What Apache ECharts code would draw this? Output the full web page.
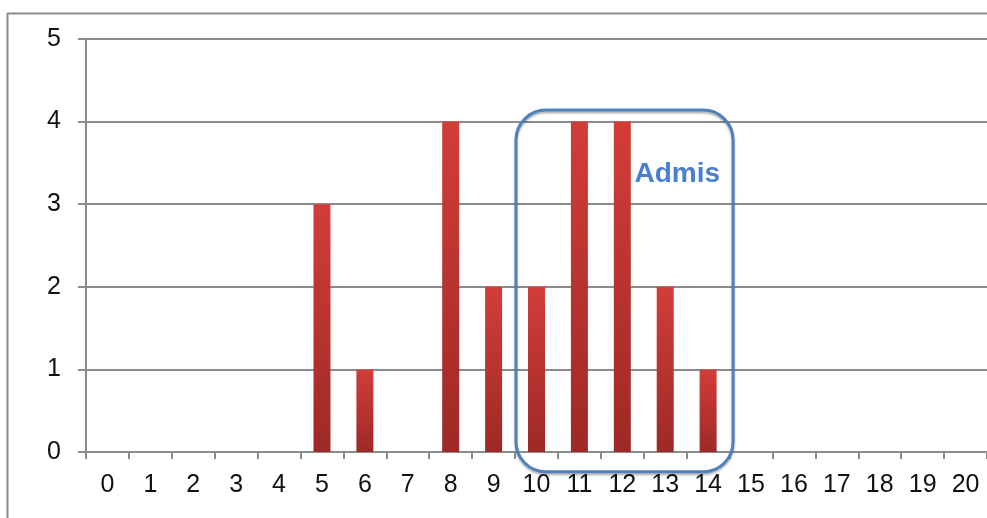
<!DOCTYPE html>
<html>
<head>
<meta charset="utf-8">
<style>
  html, body { margin: 0; padding: 0; background: #fff; }
  #chart { width: 987px; height: 518px; }
</style>
<script src="https://cdn.jsdelivr.net/npm/echarts@6/dist/echarts.min.js"></script>
</head>
<body>
<div id="chart"></div>
<script>
// Score distribution: number of students per score (0–20)
const scores = ['0','1','2','3','4','5','6','7','8','9','10','11','12','13','14','15','16','17','18','19','20'];
const counts = [0, 0, 0, 0, 0, 3, 1, 0, 4, 2, 2, 4, 4, 2, 1, 0, 0, 0, 0, 0, 0];
const valueTicks = [0, 1, 2, 3, 4, 5];
// Range of scores grouped as "Admis"
const admisFrom = 10;
const admisTo = 14;
const admisLabel = 'Admis';

const chart = echarts.init(document.getElementById('chart'));
const axisGray = '#8c8c8c';

const option = {
  animation: false,
  grid: { left: 86, right: -2, top: 39, bottom: 66, containLabel: false },
  xAxis: {
    type: 'category',
    data: scores,
    boundaryGap: true,
    axisLine: { lineStyle: { color: axisGray, width: 2 } },
    axisTick: { show: true, length: 7, alignWithLabel: false, lineStyle: { color: axisGray, width: 2 } },
    axisLabel: { color: '#111', fontSize: 25, fontFamily: 'Liberation Sans', margin: 21 },
    splitLine: { show: false }
  },
  yAxis: {
    type: 'value',
    min: valueTicks[0],
    max: valueTicks[valueTicks.length - 1],
    interval: 1,
    axisLine: { show: true, lineStyle: { color: axisGray, width: 2 } },
    axisTick: { show: true, length: 8, lineStyle: { color: axisGray, width: 2 } },
    axisLabel: { color: '#111', fontSize: 25, fontFamily: 'Liberation Sans', margin: 25 },
    splitLine: { show: true, lineStyle: { color: axisGray, width: 2 } }
  },
  series: [{
    type: 'bar',
    data: counts,
    barWidth: 17,
    itemStyle: {
      color: new echarts.graphic.LinearGradient(0, 0, 0, 1, [
        { offset: 0, color: '#d23d39' },
        { offset: 1, color: '#9e2926' }
      ]),
      shadowColor: 'rgba(0,0,0,0.25)',
      shadowBlur: 3,
      shadowOffsetX: 2,
      shadowOffsetY: 0
    }
  }]
};
chart.setOption(option);

// Annotation frame around the "Admis" score range, placed through the axes
const leftPx = chart.convertToPixel({ xAxisIndex: 0 }, admisFrom) - 20.5;
const rightPx = chart.convertToPixel({ xAxisIndex: 0 }, admisTo) + 25;
const topPx = chart.convertToPixel({ yAxisIndex: 0 }, 4.14);
const bottomPx = chart.convertToPixel({ yAxisIndex: 0 }, -0.24);

chart.setOption({
  graphic: [
    // outer frame of the chart area
    { type: 'line', shape: { x1: 7, y1: 13.5, x2: 987, y2: 13.5 }, style: { stroke: axisGray, lineWidth: 2 }, silent: true },
    { type: 'line', shape: { x1: 7.5, y1: 13, x2: 7.5, y2: 518 }, style: { stroke: axisGray, lineWidth: 2 }, silent: true },
    {
      type: 'rect',
      shape: { x: leftPx, y: topPx, width: rightPx - leftPx, height: bottomPx - topPx, r: 30 },
      style: { fill: 'none', stroke: '#4f81bd', lineWidth: 3, shadowColor: 'rgba(0,0,0,0.3)', shadowBlur: 2, shadowOffsetY: 2 },
      z: 10
    },
    {
      type: 'text',
      x: rightPx - 13,
      y: topPx + 64,
      style: {
        text: admisLabel,
        fill: '#4a7fd0',
        font: 'bold 28px "Liberation Sans"',
        textAlign: 'right',
        textVerticalAlign: 'middle'
      },
      z: 11
    }
  ]
});
</script>
</body>
</html>
